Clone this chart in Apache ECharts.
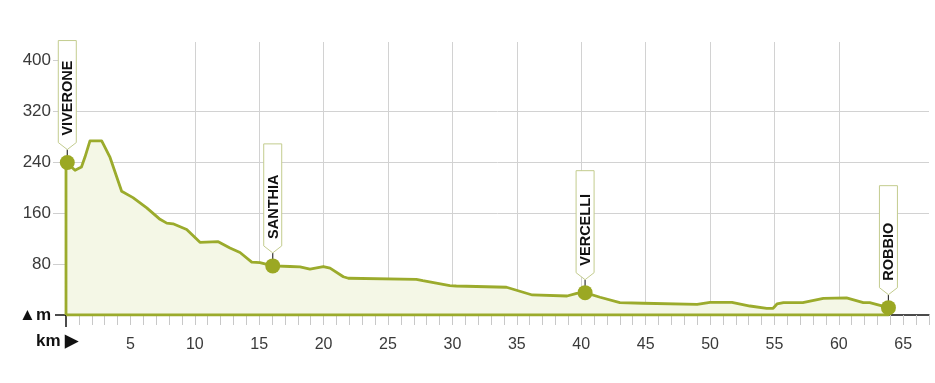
<!DOCTYPE html>
<html>
<head>
<meta charset="utf-8">
<script src="https://cdn.jsdelivr.net/npm/echarts@6/dist/echarts.min.js"></script>
<style>
html,body{margin:0;padding:0;background:#fff;}
#chart{width:935px;height:383px;}
</style>
</head>
<body>
<div id="chart"></div>
<script>
// Elevation profile: distance (km) and altitude (m)
var profileKm = [0, 0, 0.7, 1.2, 1.48, 1.86, 2.77, 2.95, 3.42, 4.32, 5.2, 6.27, 7.3, 7.82, 8.31, 9.37, 10.4, 11.82, 12.73, 13.51, 14.42, 15.06, 16.05, 17.39, 18.17, 18.94, 19.98, 20.5, 21.53, 21.92, 27.2, 27.7, 29.8, 30.3, 34.2, 36.2, 38.9, 39.65, 40.3, 41.46, 43.0, 44.8, 49.0, 50.0, 51.7, 53.1, 54.4, 54.9, 55.2, 55.7, 57.2, 58.8, 60.6, 61.9, 62.4, 63.85, 63.85, 0];
var profileM  = [0, 240, 227, 232, 248, 273, 273, 266, 247, 194, 184, 168, 150, 144, 143, 134, 114, 115, 105, 98, 83, 82, 77, 76, 75.5, 72, 76, 73.5, 60, 57.6, 56, 53.8, 46, 45.5, 43.5, 31.4, 29.8, 34, 35, 27.8, 19.5, 18.4, 16.8, 19.9, 19.9, 14.1, 10.5, 10.5, 17.3, 19.3, 19.3, 26.2, 26.7, 19.3, 19.3, 11.5, 0, 0];

// Towns (flags)
var townNames = ['VIVERONE', 'SANTHIA', 'VERCELLI', 'ROBBIO'];
var townKm = [0.1, 16.05, 40.3, 63.85];
var townM = [239, 77, 35, 11.5];

// Axis ticks / labels
var yTickValues = [80, 160, 240, 320, 400];
var yLabelValues = [0, 80, 160, 240, 320, 400];
var xLabelValues = [5, 10, 15, 20, 25, 30, 35, 40, 45, 50, 55, 60, 65];
var xMinorTicks = [1,2,3,4,5,6,7,8,9,10,11,12,13,14,15,16,17,18,19,20,21,22,23,24,25,26,27,28,29,30,31,32,33,34,35,36,37,38,39,40,41,42,43,44,45,46,47,48,49,50,51,52,53,54,55,56,57,58,59,60,61,62,63,64,65,66,67];

var FONT = "'Liberation Sans', Arial, Helvetica, sans-serif";
var profileData = profileKm.map(function (k, i) { return [k, profileM[i]]; });
var townData = townKm.map(function (k, i) { return [k, townM[i]]; });

var chart = echarts.init(document.getElementById('chart'), null, {renderer: 'canvas'});
chart.setOption({
  animation: false,
  backgroundColor: '#ffffff',
  grid: {left: 66, right: 6, top: 42, bottom: 68, containLabel: false},
  xAxis: [{
    type: 'value', min: 0, max: 67, interval: 5,
    axisLine: {show: true, lineStyle: {color: '#111', width: 1.5}},
    axisTick: {show: true, customValues: xLabelValues, length: 10, lineStyle: {color: '#c8c8c8', width: 1}},
    axisLabel: {customValues: xLabelValues, margin: 22, fontSize: 16, color: '#3a3a3a', fontFamily: FONT},
    splitLine: {show: true, showMinLine: false, showMaxLine: false, lineStyle: {color: '#d2d2d2', width: 1}}
  }, {
    type: 'value', min: 0, max: 67, interval: 1, position: 'bottom',
    axisLine: {show: false},
    axisTick: {show: true, customValues: xMinorTicks, length: 10, lineStyle: {color: '#c8c8c8', width: 1}},
    axisLabel: {show: false},
    splitLine: {show: false}
  }, {
    type: 'value', min: 0, max: 67, position: 'bottom',
    axisLine: {show: false},
    axisTick: {show: true, customValues: [0], length: 12, lineStyle: {color: '#111', width: 1.5}},
    axisLabel: {show: false},
    splitLine: {show: false}
  }],
  yAxis: [{
    type: 'value', min: 0, max: 428, interval: 80,
    axisLine: {show: false},
    axisTick: {show: true, customValues: yTickValues, length: 13, lineStyle: {color: '#cfcfcf', width: 1}},
    axisLabel: {
      customValues: yLabelValues, margin: 15, fontSize: 17, color: '#3a3a3a', fontFamily: FONT,
      formatter: function (v) { return v === 0 ? '{b|▲m}' : String(v); },
      rich: {b: {fontSize: 17, fontWeight: 'bold', color: '#111', fontFamily: FONT}}
    },
    splitLine: {show: true, showMinLine: false, showMaxLine: false, lineStyle: {color: '#d2d2d2', width: 1}}
  }, {
    type: 'value', min: 0, max: 428, position: 'left',
    axisLine: {show: false},
    axisTick: {show: true, customValues: [0], length: 11, lineStyle: {color: '#111', width: 1.5}},
    axisLabel: {show: false},
    splitLine: {show: false}
  }],
  graphic: [{
    type: 'text', left: 36, top: 333,
    style: {text: 'km ▶', font: 'bold 17px ' + FONT, fill: '#111'}
  }],
  series: [{
    type: 'line',
    data: profileData,
    showSymbol: false,
    symbol: 'none',
    lineStyle: {color: '#9bab2c', width: 2.8, join: 'round'},
    areaStyle: {color: '#f4f7e6', opacity: 1},
    z: 2
  }, {
    type: 'custom',
    data: townData,
    z: 5,
    renderItem: function (params, api) {
      var p = api.coord([api.value(0), api.value(1)]);
      var x = p[0], y = p[1];
      var w = 18, h = 102, chev = 7, stem = 13;
      var tipY = y - stem, botY = tipY - chev, topY = botY - h;
      return {
        type: 'group',
        children: [
          {type: 'line', shape: {x1: x, y1: y, x2: x, y2: tipY}, style: {stroke: '#333', lineWidth: 1.2}},
          {type: 'polygon', shape: {points: [[x - w / 2, topY], [x + w / 2, topY], [x + w / 2, botY], [x, tipY], [x - w / 2, botY]]},
            style: {fill: '#ffffff', stroke: '#c3cc8e', lineWidth: 1}},
          {type: 'text', x: x + 1, y: botY - 7, rotation: Math.PI / 2,
            style: {text: townNames[params.dataIndex], font: 'bold 14.5px ' + FONT, fill: '#111', align: 'left', verticalAlign: 'middle'}},
          {type: 'circle', shape: {cx: x, cy: y, r: 7.5}, style: {fill: '#9ba823'}}
        ]
      };
    }
  }]
});
</script>
</body>
</html>
